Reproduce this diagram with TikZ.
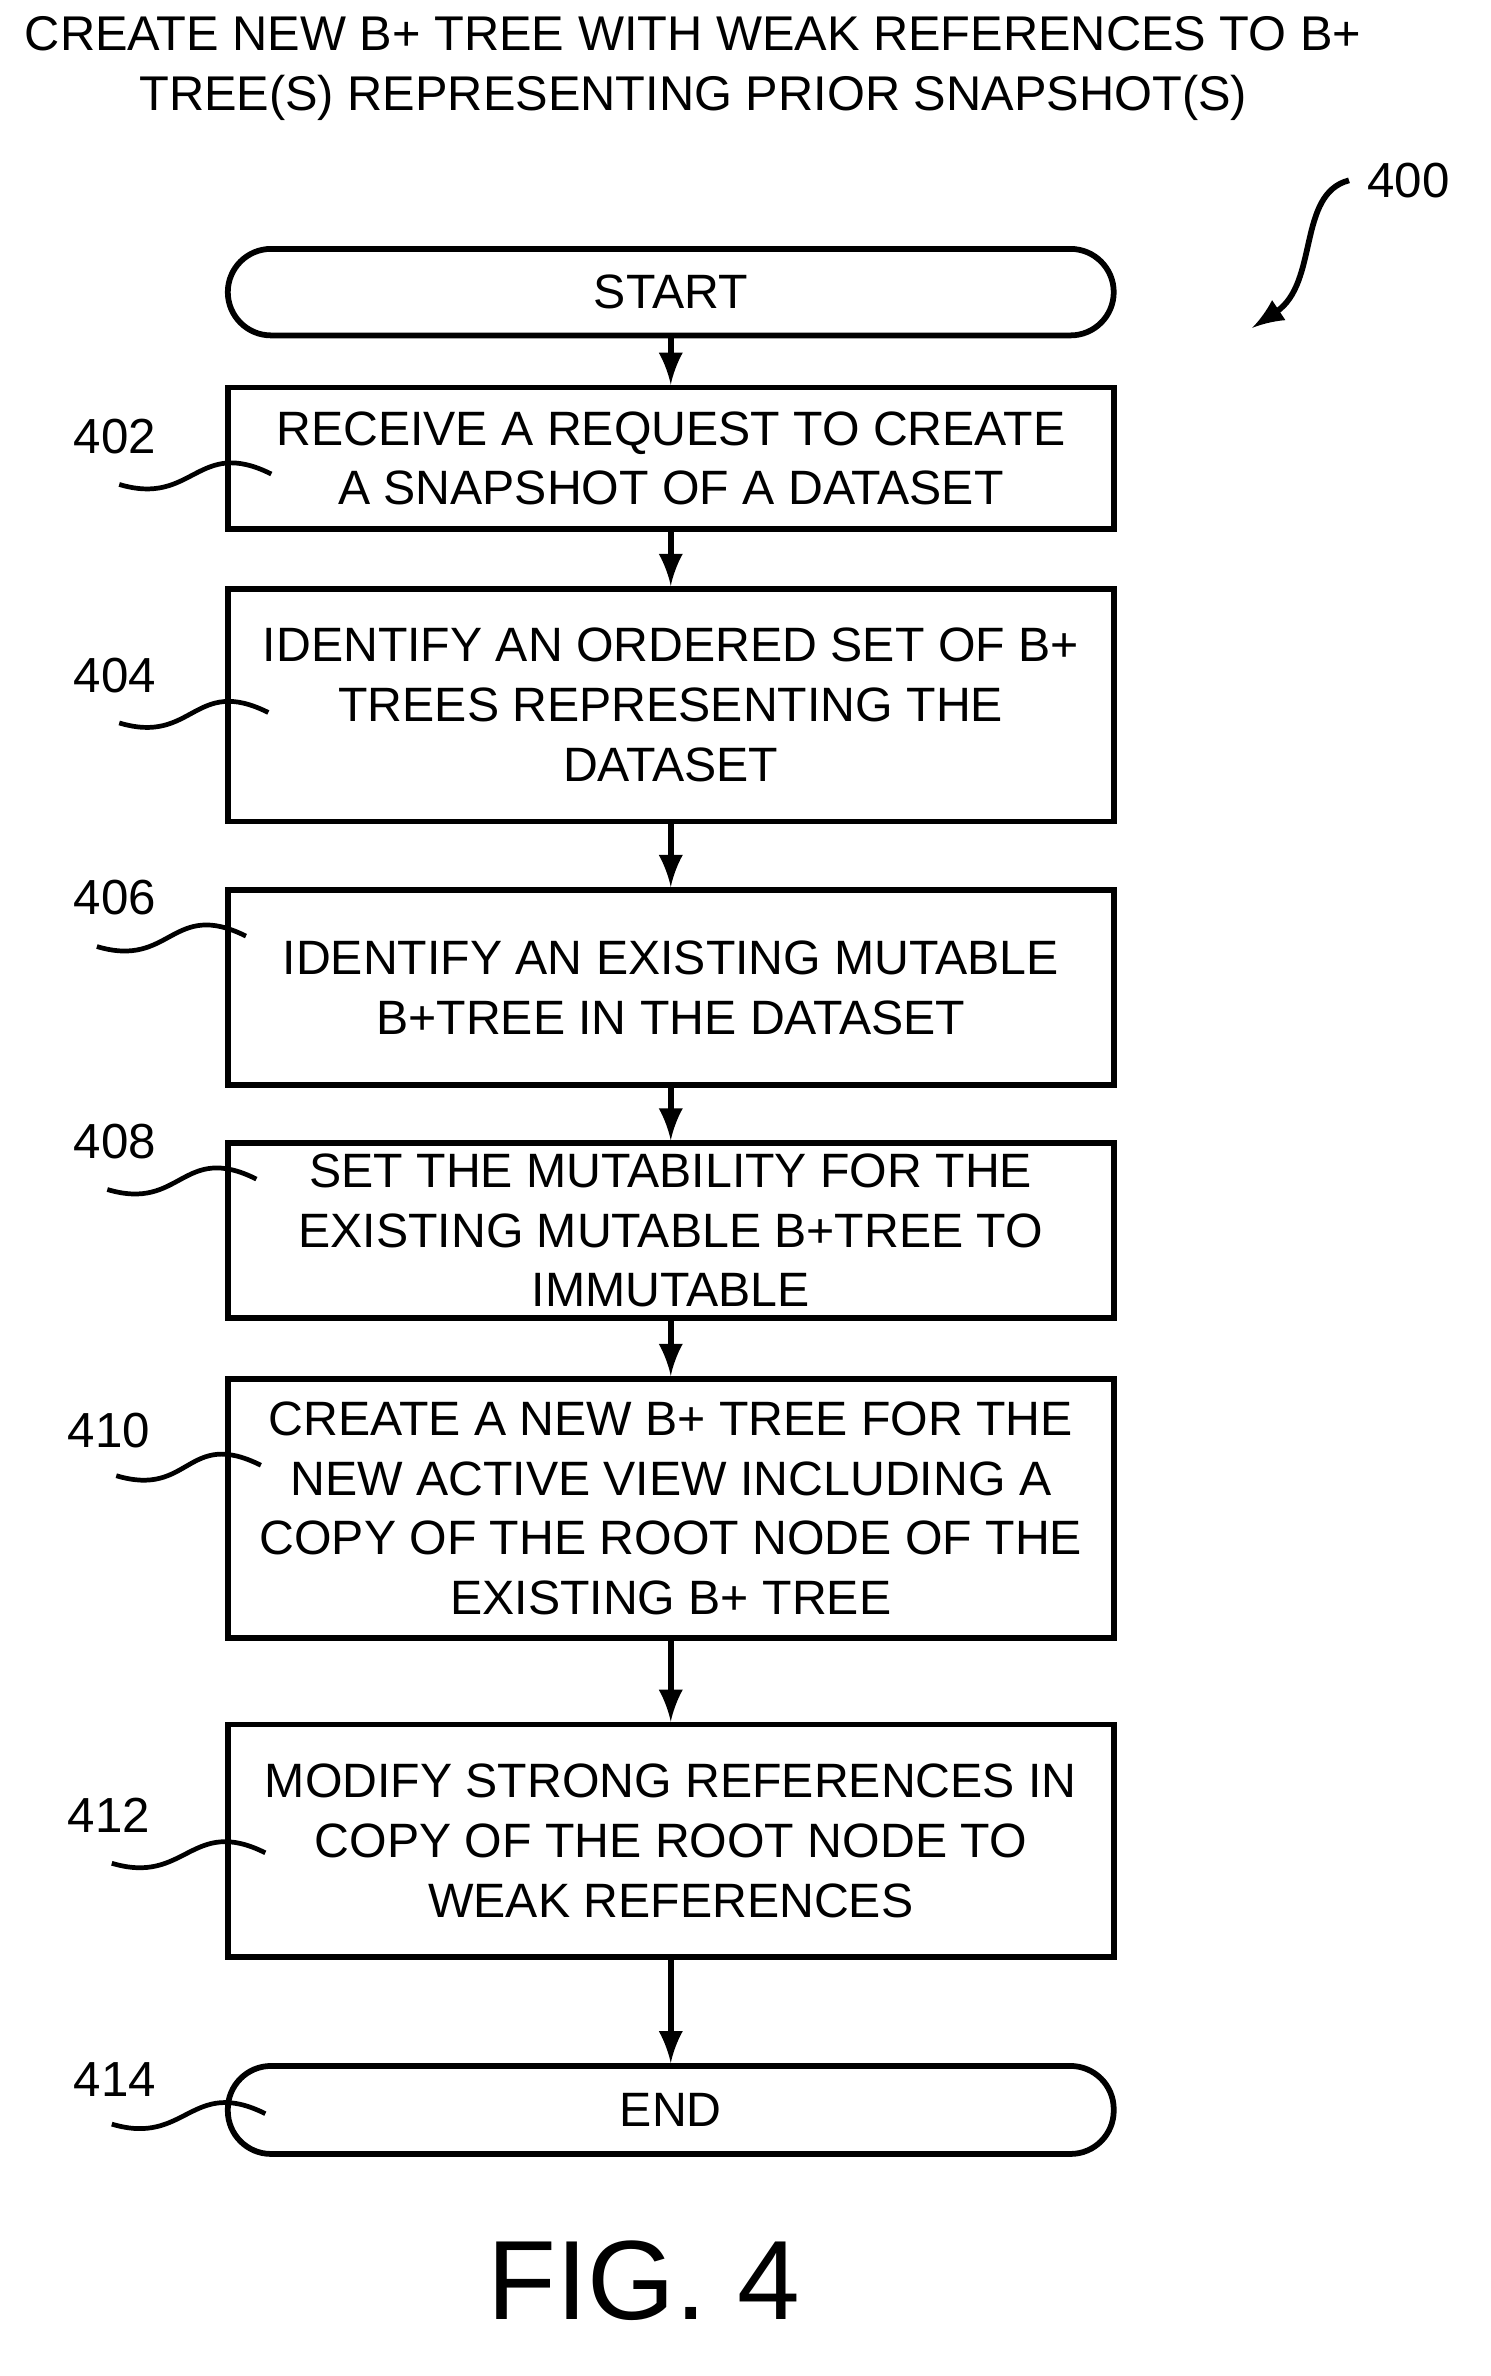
\documentclass[tikz,border=0pt]{standalone}
\usepackage{fontspec}
\setmainfont{Liberation Sans}
\begin{document}
\begin{tikzpicture}[x=0.01cm,y=-0.01cm,
 box/.style={draw,line width=1.1pt,minimum width=5.94cm,align=center,font=\fontsize{9.2}{11.4}\selectfont,inner sep=0pt},
 term/.style={box,rounded corners=0.29cm},
 arr/.style={-latex,line width=1.1pt},
 lbl/.style={font=\fontsize{9.4}{11}\selectfont},
 sq/.style={line width=0.9pt}]
\useasboundingbox (0,0) rectangle (1000,1594);
\node[font=\fontsize{9.3}{11.3}\selectfont,align=center] (title) at (465,46) {CREATE NEW B+ TREE WITH WEAK REFERENCES TO B+\\TREE(S) REPRESENTING PRIOR SNAPSHOT(S)};
\node[term,minimum height=0.58cm] (s) at (450,196) {START};
\node[box,minimum height=0.95cm] (b402) at (450,307.5) {RECEIVE A REQUEST TO CREATE\\A SNAPSHOT OF A DATASET};
\node[box,minimum height=1.56cm] (b404) at (450,473) {IDENTIFY AN ORDERED SET OF B+\\TREES REPRESENTING THE\\DATASET};
\node[box,minimum height=1.31cm] (b406) at (450,662.5) {IDENTIFY AN EXISTING MUTABLE\\B+TREE IN THE DATASET};
\node[box,minimum height=1.17cm] (b408) at (450,825.5) {SET THE MUTABILITY FOR THE\\EXISTING MUTABLE B+TREE TO\\IMMUTABLE};
\node[box,minimum height=1.74cm] (b410) at (450,1012) {CREATE A NEW B+ TREE FOR THE\\NEW ACTIVE VIEW INCLUDING A\\COPY OF THE ROOT NODE OF THE\\EXISTING B+ TREE};
\node[box,minimum height=1.56cm] (b412) at (450,1235) {MODIFY STRONG REFERENCES IN\\COPY OF THE ROOT NODE TO\\WEAK REFERENCES};
\node[term,minimum height=0.59cm] (e) at (450,1415.5) {END};
\draw[arr] (s) -- (b402);
\draw[arr] (b402) -- (b404);
\draw[arr] (b404) -- (b406);
\draw[arr] (b406) -- (b408);
\draw[arr] (b408) -- (b410);
\draw[arr] (b410) -- (b412);
\draw[arr] (b412) -- (e);
\node[lbl] (l400) at (945,121) {400};
\coordinate (a400) at (840,220);
\draw[arr] (l400.west) .. controls (870,130) and (885,190) .. (a400);
\foreach \n/\lx/\ly/\sx/\sy/\ex/\ey in {402/77/293/80/325/182/318, 404/77/453/80/485/180/478, 406/77/602/65/635/165/628, 408/77/766/72/798/172/791, 410/73/960/78/990/175/983, 412/73/1218/75/1250/178/1243, 414/77/1395/75/1425/178/1418}{
 \node[lbl] (l\n) at (\lx,\ly) {\n};
 \coordinate (c\n) at (\ex,\ey);
 \draw[sq] (\sx,\sy) .. controls ({\sx+50},{\sy+15}) and ({\ex-50},{\ey-25}) .. (c\n);
}
\node[font=\fontsize{21.5}{24}\selectfont] (fig) at (432,1530) {FIG. 4};
\end{tikzpicture}
\end{document}
